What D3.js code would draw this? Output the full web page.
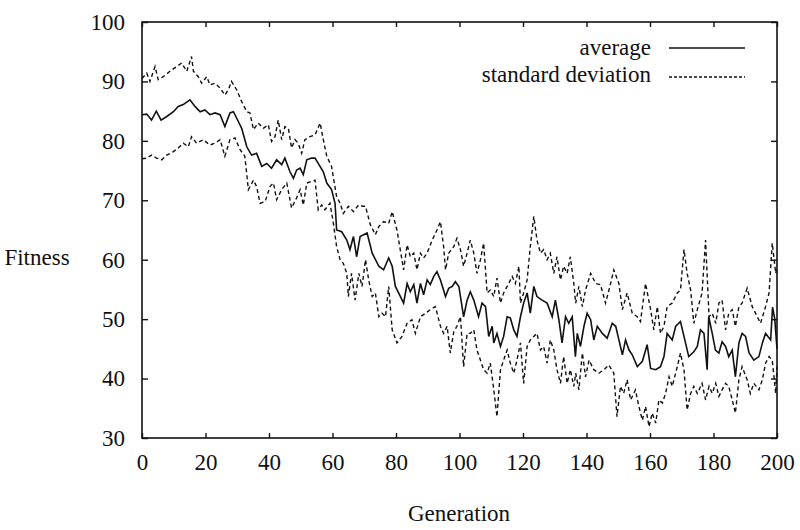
<!DOCTYPE html>
<html>
<head>
<meta charset="utf-8">
<script src="https://cdn.jsdelivr.net/npm/d3@7"></script>
<style>
  body { margin: 0; background: #fff; }
  svg text { font-family: "Liberation Serif", "DejaVu Serif", "Times New Roman", Times, serif !important; fill: #111; }
</style>
</head>
<body>
<div id="chart"></div>
<script>
// average fitness per generation
var avgGen = [0,1.5,3,4.5,6,7.8,9.9,11.4,13,15.1,16.7,18.3,19.8,21.4,23,24.6,26.1,27.7,28.8,30.3,31.4,33,34.5,36.1,37.7,39.3,40.8,42.4,44,45,46.6,47.7,48.7,49.8,50.8,51.9,53.4,54.5,55.5,57.1,58.2,59.7,60.8,61.3,62.9,64.5,65.5,66.6,67.6,68.7,70.9,72.5,74.6,76.1,77.7,78.8,79.8,81.4,82.4,83.5,84.5,85.6,86.6,87.7,88.7,89.8,90.8,91.9,92.9,94,95.6,96.6,97.7,98.7,99.8,101.3,102.4,103.4,104.5,106,107.1,108.2,109.2,110.3,110.8,111.8,112.9,113.9,115,116,117.1,118.1,119.2,120.2,121.3,122.3,123.4,124.4,126,127.6,129.2,130.2,131.3,132.3,133.4,134.4,135.5,136.5,137.1,138.1,139.2,140.2,141.3,142.3,143.4,145,146.5,148.1,149.2,150.2,151.3,152.3,153.4,154.4,156,157.6,159.1,160.2,161.8,163.3,164.4,165.4,167,168.1,169.6,170.7,172.2,173.8,174.9,175.9,177,178,178.5,179.6,180.6,181.7,182.7,183.8,184.8,185.9,186.9,188,189,190.1,191.2,192.7,194.3,195.4,196.4,198,198.6,199.3,200];
var avgFit = [84.4,84.5,83.5,85,83.5,84.1,84.9,85.8,86.1,86.9,85.8,84.9,85.2,84.4,84.7,84.4,82.4,84.7,84.9,83.3,82.1,79,77.6,77.9,75.7,76.2,75.4,76.8,76,77.1,74.8,73.7,75.1,75.4,74.3,76.8,77.1,77.1,76.2,74.8,72.9,71.8,69.5,65,64.7,63.3,61.7,63.9,60.5,63.9,64.5,61.1,58.9,58.3,60.3,58.9,55.5,53.8,52.7,56,54.6,55.8,52.7,56,54.1,56.6,55.8,57.2,58,56.6,53.8,55.2,55.5,56.3,55.5,50.4,53.2,54.6,53.2,50.4,52.7,52.1,47.1,48.8,46,47.6,45.4,47.1,50.4,50.2,48.2,47.1,50.4,52.7,54.4,51,55.5,53.8,53.2,52.7,50.4,53.2,49.9,46,50.4,49.3,50.4,43.7,47.6,45.4,48.8,51,49.9,46.5,48.8,47.6,46.8,49.3,48.8,46.5,44,46.5,44.8,44,42,42.9,45.7,41.7,41.5,42,43.7,47.6,46.5,48.8,49.6,47.1,43.7,44.5,45.4,48.2,47.6,41.5,50.4,47.6,44.8,44.3,46.2,45.4,43.7,44.8,40.3,46,47.6,47.1,44.3,43.1,43.7,46,47.6,46.5,52,50,45];

// average + standard deviation
var upGen = [0,1.5,2.5,4.1,5.1,6.7,8.8,10.9,12.5,14.1,15.6,16.2,17.7,18.8,20.4,21.4,23,24.6,26.1,27.2,28.2,29.8,31.4,33,34,35.1,36.6,38.2,39.8,40.8,41.9,42.9,44,45,46.1,47.1,48.2,49.2,50.3,51.3,52.9,54.5,56.1,57.1,58.2,59.7,61.3,62.4,63.4,65,66.6,68.2,69.5,70.4,71.9,73.5,74.6,76.1,77.7,78.8,80.3,82.4,83.5,84.5,85.6,86.6,87.7,88.7,89.8,91.4,92.9,94,95,95.6,96.6,98.2,99.2,100.3,101.3,102.4,103.4,104.5,105.5,106.6,107.6,108.7,109.7,110.8,111.8,112.9,113.9,115.5,116.6,117.6,118.7,119.2,120.2,121.3,122.3,123.4,124.4,125.5,126.5,127.6,128.6,129.7,130.7,131.8,132.8,133.9,134.9,136,136.6,137.6,138.7,139.7,141.3,142.9,144.4,146,147.6,148.6,150.2,151.3,152.8,154.4,156,157,158.6,160.2,161.2,162.3,163.3,164.4,165.4,167,168.6,169.6,170.7,171.7,172.8,173.8,174.9,176.4,177.5,178.6,179.6,180.7,181.7,182.7,183.8,184.8,185.9,186.9,188,189,190.6,192.2,193.8,194.8,196.4,197.5,198.5,199.6,200];
var upFit = [90.5,91.4,90,92.5,90.3,90.8,91.7,92.5,93.1,91.7,94.2,91.7,90.8,89.7,90.8,89.4,89.7,88.9,87.7,88.6,90,88.6,86.6,84.9,84.7,81.9,83,82.1,82.7,79.9,80.7,83.5,80.2,82.4,82.1,78.8,80.2,79.6,77.9,80.2,80.7,81,83,80.2,77.4,75.7,70.6,69.5,67.8,69,68.1,69.2,69,69,65.9,64.2,65.6,66.4,66.1,68.1,65,58.3,62.5,60.5,61.1,58.3,61.1,60.3,61.1,63.3,65,66.4,62.2,58.3,61.1,62.2,63.6,61.7,58.9,61.1,63.3,61.1,57.7,60,62.8,54.4,54.9,53.8,56.9,52.7,54.4,56,57.2,56,58.9,52.7,54.4,56.6,62.2,67.3,63.3,61.1,61.7,60,61.1,57.7,60.5,56.6,58.9,57.7,60.5,56,52.7,55.5,52.1,54.9,57.7,56,55.8,52.7,56,58.3,56,51.6,54.4,51,50.4,49.6,56,51.6,48.2,52.1,47.6,48.8,52.1,52.7,54.4,54.9,61.7,57.7,54.9,49.3,51.6,54.4,63.3,50.4,51,49.3,52.7,53.2,48.2,51,51.6,48.8,52.1,52.7,55.2,52.1,50.4,49.3,52.1,54.4,62.8,57.7,59];

// average - standard deviation
var loGen = [0,1.5,3,4.6,6.2,7.8,9.9,11.4,13,14.6,15.6,17.2,19.3,21.4,23,24.6,26.1,27.7,29.3,30.9,32.4,33.5,35.1,36.1,37.2,38.8,40.3,41.4,42.4,44,45.6,47.1,48.7,49.8,50.8,51.9,53.4,54.5,55.5,56.6,57.6,59.2,60.2,61.3,62.4,63.4,64.5,65,66,67.1,68.3,69.3,70.4,71.4,72.5,73.5,74.6,75.6,76.7,77.7,78.8,80.3,81.9,83.5,85,86.1,87.7,89.3,90.8,92.4,94,95,96.1,97.1,98.2,99.2,100.3,101.3,102.4,103.4,104.5,105.5,106.6,107.6,108.7,109.7,110.8,111.8,112.9,113.9,115,116,117.1,118.1,119.2,120.2,121.3,122.3,123.4,124.4,125.5,126.5,127.6,128.6,129.7,130.7,131.8,132.8,133.9,134.9,136,136.6,137.6,138.7,139.7,140.8,142.3,143.9,145.5,147,148.6,149.6,150.7,151.7,152.8,153.9,155.4,156.5,157.6,158.6,159.7,160.7,161.8,162.8,163.9,164.9,166,167,168.6,169.6,170.7,171.7,172.8,173.8,174.9,176.4,177.5,178.6,179.6,180.7,181.7,182.7,183.8,184.8,185.9,186.9,188,189,190.6,191.6,192.7,194.3,195.4,196.4,197.5,198.5,199.6,200];
var loFit = [77,77.1,77.6,77.1,76.8,77.6,78.2,78.8,79.6,79,80.7,79.6,80.2,79.3,79.6,80.2,77.4,80.2,80.5,78.5,77.4,71.8,73.4,72.3,69.5,69.8,72.3,72.9,70.1,71.8,72.9,68.7,70.4,71.8,69.2,72.9,73.2,73.4,68.4,69.2,68.4,69.5,66.4,62.2,60,59.4,57.7,53.8,57.7,53.2,57.7,55.5,60,56.6,53.8,54.4,50.4,51,50.4,55.5,48.2,46,47.1,49.3,49.9,47.6,50.4,51,51.6,52.1,48.8,47.6,48.8,44.3,47.9,48.8,50.4,42,47.6,47.6,48.2,44.8,43.1,41.5,40.9,42.6,38.1,33.6,41.5,43.1,44.8,42.6,40.9,43.1,46,39.2,45.4,46.5,47.1,47.6,44.8,45.4,42.6,46.5,44.8,41.5,39.2,43.7,39.2,41.5,38.7,40.9,38.1,44.3,40.3,43.1,41.5,40.9,41.5,42.3,40.9,33.6,38.7,37.5,39.8,36.4,38.1,35.3,33,35.3,31.9,34.2,32.5,36.4,35.9,37.5,40.3,38.7,42,44.3,41.5,34.7,37.5,38.7,37.5,39.2,36.4,38.7,37.5,39.2,37,38.1,39.2,38.7,36.4,34.2,39.8,42,39.8,37.5,39.2,38.1,39.8,42.6,43.7,43.1,37.5,42];

var xTicks = [0, 20, 40, 60, 80, 100, 120, 140, 160, 180, 200];
var yTicks = [30, 40, 50, 60, 70, 80, 90, 100];

var serif = "'Liberation Serif', 'DejaVu Serif', 'Times New Roman', Times, serif";

var svg = d3.select("#chart").append("svg")
  .attr("width", 800)
  .attr("height", 530)
  .attr("font-family", serif);

var x = d3.scaleLinear().domain([0, 200]).range([142, 777]);
var y = d3.scaleLinear().domain([30, 100]).range([438, 22]);

// frame with inward ticks on every side
svg.append("rect")
  .attr("x", x(0)).attr("y", y(100))
  .attr("width", x(200) - x(0)).attr("height", y(30) - y(100))
  .attr("fill", "none").attr("stroke", "#111").attr("stroke-width", 1.6);

svg.append("g").attr("transform", "translate(0," + y(30) + ")")
  .call(d3.axisBottom(x).tickValues(xTicks).tickSizeInner(-5).tickSizeOuter(0).tickPadding(16));
svg.append("g").attr("transform", "translate(0," + y(100) + ")")
  .call(d3.axisTop(x).tickValues(xTicks).tickSizeInner(-5).tickSizeOuter(0).tickFormat(""));
svg.append("g").attr("transform", "translate(" + x(0) + ",0)")
  .call(d3.axisLeft(y).tickValues(yTicks).tickSizeInner(-6).tickSizeOuter(0).tickPadding(17));
svg.append("g").attr("transform", "translate(" + x(200) + ",0)")
  .call(d3.axisRight(y).tickValues(yTicks).tickSizeInner(-6).tickSizeOuter(0).tickFormat(""));

svg.selectAll(".domain").remove();
svg.selectAll("g").attr("font-family", serif);
svg.selectAll(".tick line").attr("stroke", "#111").attr("stroke-width", 1.4);
svg.selectAll(".tick text")
  .style("font-size", "23px")
  .attr("fill", "#111");

// axis titles
svg.append("text")
  .attr("x", 459).attr("y", 521)
  .attr("text-anchor", "middle")
  .style("font-size", "23px")
  .text("Generation");

svg.append("text")
  .attr("x", 37).attr("y", 265)
  .attr("text-anchor", "middle")
  .style("font-size", "23px")
  .text("Fitness");

// series
var line = d3.line()
  .x(function (d) { return x(d[0]); })
  .y(function (d) { return y(d[1]); });

function pairs(g, v) { return g.map(function (d, i) { return [d, v[i]]; }); }

svg.append("path").datum(pairs(upGen, upFit))
  .attr("d", line).attr("fill", "none").attr("stroke", "#111")
  .attr("stroke-width", 1.4).attr("stroke-dasharray", "4,3");
svg.append("path").datum(pairs(loGen, loFit))
  .attr("d", line).attr("fill", "none").attr("stroke", "#111")
  .attr("stroke-width", 1.4).attr("stroke-dasharray", "4,3");
svg.append("path").datum(pairs(avgGen, avgFit))
  .attr("d", line).attr("fill", "none").attr("stroke", "#111")
  .attr("stroke-width", 1.6);

// legend
svg.append("text").attr("x", 651).attr("y", 55)
  .attr("text-anchor", "end").style("font-size", "23px").text("average");
svg.append("line").attr("x1", 669).attr("x2", 745).attr("y1", 48).attr("y2", 48)
  .attr("stroke", "#111").attr("stroke-width", 1.5);
svg.append("text").attr("x", 651).attr("y", 82)
  .attr("text-anchor", "end").style("font-size", "23px").text("standard deviation");
svg.append("line").attr("x1", 669).attr("x2", 745).attr("y1", 77).attr("y2", 77)
  .attr("stroke", "#111").attr("stroke-width", 1.3).attr("stroke-dasharray", "3,2");
</script>
</body>
</html>
